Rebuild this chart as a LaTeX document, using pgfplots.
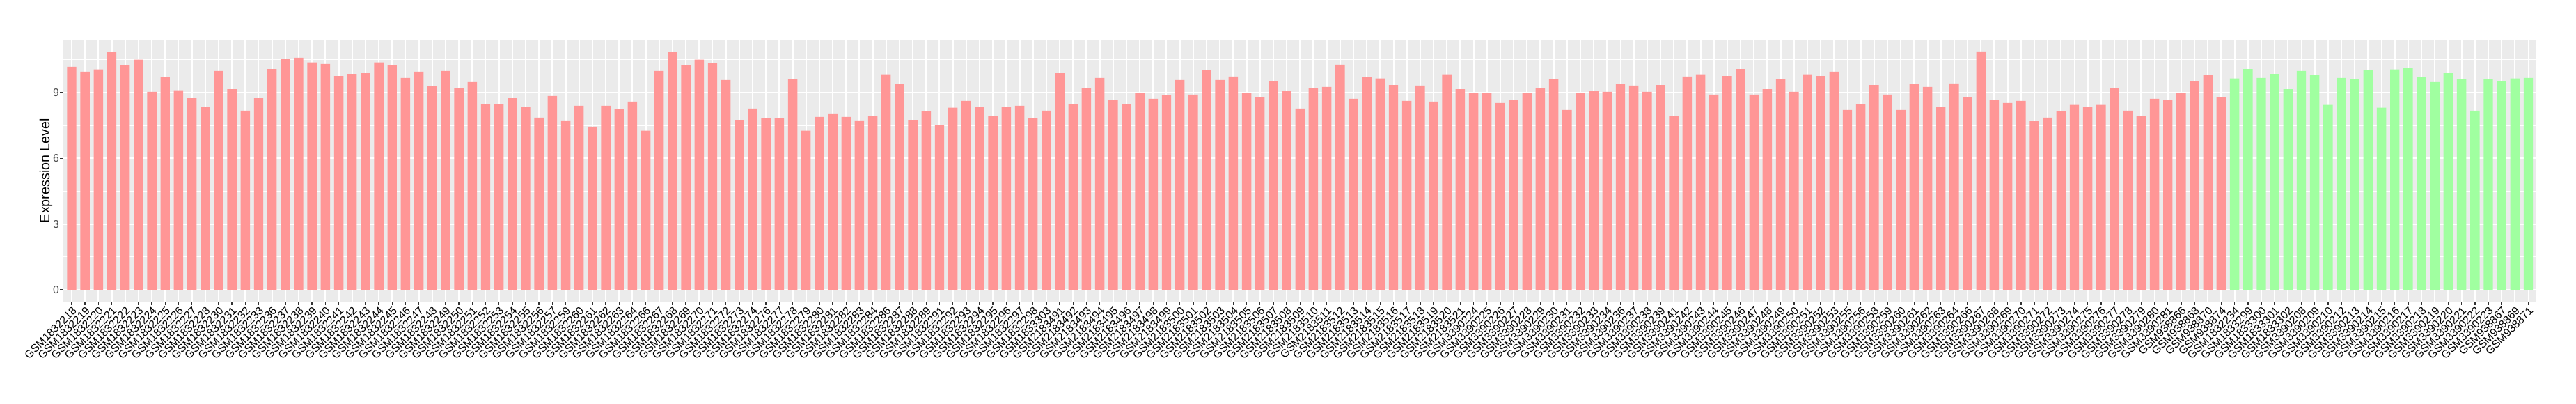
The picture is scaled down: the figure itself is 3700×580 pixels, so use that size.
\documentclass[border=0pt]{standalone}
\usepackage{pgfplots}
\pgfplotsset{compat=1.18}
\usepackage{pgfplotstable}
\usepackage{fontspec}
\setmainfont{Liberation Sans}
\definecolor{panel}{HTML}{EBEBEB}
\definecolor{barred}{RGB}{255,150,150}
\definecolor{bargreen}{RGB}{160,255,160}
\definecolor{gray30}{HTML}{4D4D4D}
\definecolor{gray20}{HTML}{333333}

\pgfplotstableread{
x y label
1 10.18 GSM1832218
2 9.96 GSM1832219
3 10.06 GSM1832220
4 10.85 GSM1832221
5 10.25 GSM1832222
6 10.51 GSM1832223
7 9.04 GSM1832224
8 9.71 GSM1832225
9 9.11 GSM1832226
10 8.75 GSM1832227
11 8.36 GSM1832228
12 9.99 GSM1832230
13 9.16 GSM1832231
14 8.18 GSM1832232
15 8.75 GSM1832233
16 10.08 GSM1832236
17 10.53 GSM1832237
18 10.60 GSM1832238
19 10.38 GSM1832239
20 10.31 GSM1832240
21 9.76 GSM1832241
22 9.86 GSM1832242
23 9.89 GSM1832243
24 10.38 GSM1832244
25 10.25 GSM1832245
26 9.67 GSM1832246
27 9.96 GSM1832247
28 9.29 GSM1832248
29 9.99 GSM1832249
30 9.22 GSM1832250
31 9.48 GSM1832251
32 8.49 GSM1832252
33 8.46 GSM1832253
34 8.75 GSM1832254
35 8.36 GSM1832255
36 7.86 GSM1832256
37 8.85 GSM1832257
38 7.73 GSM1832259
39 8.40 GSM1832260
40 7.45 GSM1832261
41 8.40 GSM1832262
42 8.25 GSM1832263
43 8.59 GSM1832264
44 7.26 GSM1832266
45 9.99 GSM1832267
46 10.85 GSM1832268
47 10.25 GSM1832269
48 10.51 GSM1832270
49 10.34 GSM1832271
50 9.58 GSM1832272
51 7.76 GSM1832273
52 8.27 GSM1832274
53 7.82 GSM1832276
54 7.82 GSM1832277
55 9.61 GSM1832278
56 7.26 GSM1832279
57 7.89 GSM1832280
58 8.05 GSM1832281
59 7.89 GSM1832282
60 7.73 GSM1832283
61 7.93 GSM1832284
62 9.84 GSM1832286
63 9.39 GSM1832287
64 7.76 GSM1832288
65 8.14 GSM1832289
66 7.51 GSM1832291
67 8.31 GSM1832292
68 8.62 GSM1832293
69 8.34 GSM1832294
70 7.95 GSM1832295
71 8.34 GSM1832296
72 8.40 GSM1832297
73 7.82 GSM1832298
74 8.18 GSM1833303
75 9.89 GSM2183491
76 8.49 GSM2183492
77 9.22 GSM2183493
78 9.67 GSM2183494
79 8.66 GSM2183495
80 8.46 GSM2183496
81 9.00 GSM2183497
82 8.72 GSM2183498
83 8.88 GSM2183499
84 9.58 GSM2183500
85 8.91 GSM2183501
86 10.02 GSM2183502
87 9.58 GSM2183503
88 9.74 GSM2183504
89 9.00 GSM2183505
90 8.81 GSM2183506
91 9.54 GSM2183507
92 9.07 GSM2183508
93 8.27 GSM2183509
94 9.20 GSM2183510
95 9.26 GSM2183511
96 10.28 GSM2183512
97 8.72 GSM2183513
98 9.71 GSM2183514
99 9.65 GSM2183515
100 9.35 GSM2183516
101 8.62 GSM2183517
102 9.32 GSM2183518
103 8.59 GSM2183519
104 9.84 GSM2183520
105 9.16 GSM2183521
106 9.00 GSM3390224
107 8.98 GSM3390225
108 8.53 GSM3390226
109 8.68 GSM3390227
110 8.98 GSM3390228
111 9.20 GSM3390229
112 9.61 GSM3390230
113 8.21 GSM3390231
114 8.98 GSM3390232
115 9.07 GSM3390233
116 9.04 GSM3390234
117 9.39 GSM3390236
118 9.32 GSM3390237
119 9.04 GSM3390238
120 9.35 GSM3390239
121 7.93 GSM3390241
122 9.74 GSM3390242
123 9.84 GSM3390243
124 8.91 GSM3390244
125 9.76 GSM3390245
126 10.08 GSM3390246
127 8.91 GSM3390247
128 9.16 GSM3390248
129 9.61 GSM3390249
130 9.04 GSM3390250
131 9.84 GSM3390251
132 9.76 GSM3390252
133 9.96 GSM3390253
134 8.21 GSM3390255
135 8.46 GSM3390256
136 9.35 GSM3390258
137 8.91 GSM3390259
138 8.21 GSM3390260
139 9.39 GSM3390261
140 9.26 GSM3390262
141 8.36 GSM3390263
142 9.42 GSM3390264
143 8.81 GSM3390266
144 10.88 GSM3390267
145 8.68 GSM3390268
146 8.53 GSM3390269
147 8.62 GSM3390270
148 7.71 GSM3390271
149 7.86 GSM3390272
150 8.14 GSM3390273
151 8.44 GSM3390274
152 8.36 GSM3390275
153 8.44 GSM3390276
154 9.22 GSM3390277
155 8.18 GSM3390278
156 7.95 GSM3390279
157 8.72 GSM3390280
158 8.66 GSM3390281
159 8.98 GSM938866
160 9.54 GSM938868
161 9.80 GSM938870
162 8.81 GSM938874
163 9.65 GSM1832234
164 10.08 GSM1833299
165 9.67 GSM1833300
166 9.86 GSM1833301
167 9.16 GSM1833302
168 9.99 GSM3390208
169 9.80 GSM3390209
170 8.44 GSM3390210
171 9.67 GSM3390212
172 9.61 GSM3390213
173 10.02 GSM3390214
174 8.31 GSM3390215
175 10.06 GSM3390216
176 10.12 GSM3390217
177 9.71 GSM3390218
178 9.48 GSM3390219
179 9.89 GSM3390220
180 9.61 GSM3390221
181 8.18 GSM3390222
182 9.61 GSM3390223
183 9.52 GSM938867
184 9.65 GSM938869
185 9.67 GSM938871
}\data

\begin{document}
\begin{tikzpicture}
\useasboundingbox (-91.5pt,-147pt) rectangle (3608.5pt,433pt);
\begin{axis}[
  at={(0pt,0pt)}, anchor=south west,
  scale only axis, width=3551.5pt, height=376pt,
  xmin=0.4, xmax=185.6, ymin=-0.544, ymax=11.42,
  axis background/.style={fill=panel},
  axis line style={draw=none},
  xtick={1,...,185},
  xticklabels from table={\data}{label},
  ytick={0,3,6,9}, minor ytick={1.5,4.5,7.5,10.5},
  xmajorgrids, ymajorgrids, yminorgrids,
  major grid style={white, line width=2pt},
  minor grid style={white, line width=1pt},
  tick align=outside, major tick length=5pt, minor tick length=0pt,
  major tick style={gray20, line width=1.4pt},
  tick pos=left,
  /pgf/number format/assume math mode=true,
  x tick label style={font=\fontsize{15.8}{18}\selectfont, rotate=45, anchor=north east, inner sep=1pt, text=black},
  y tick label style={font=\fontsize{15.8}{18}\selectfont, text=gray30, inner sep=1.5pt},
  ylabel={Expression Level},
  ylabel style={font=\fontsize{19.7}{22}\selectfont, at={(axis description cs:-0.00718,0.5)}, anchor=center},
]
\addplot[ybar, bar width=0.7, fill=barred, draw=none, restrict x to domain=1:162] table[x=x, y=y] {\data};
\addplot[ybar, bar width=0.7, fill=bargreen, draw=none, restrict x to domain=163:185] table[x=x, y=y] {\data};
\end{axis}
\end{tikzpicture}
\end{document}
